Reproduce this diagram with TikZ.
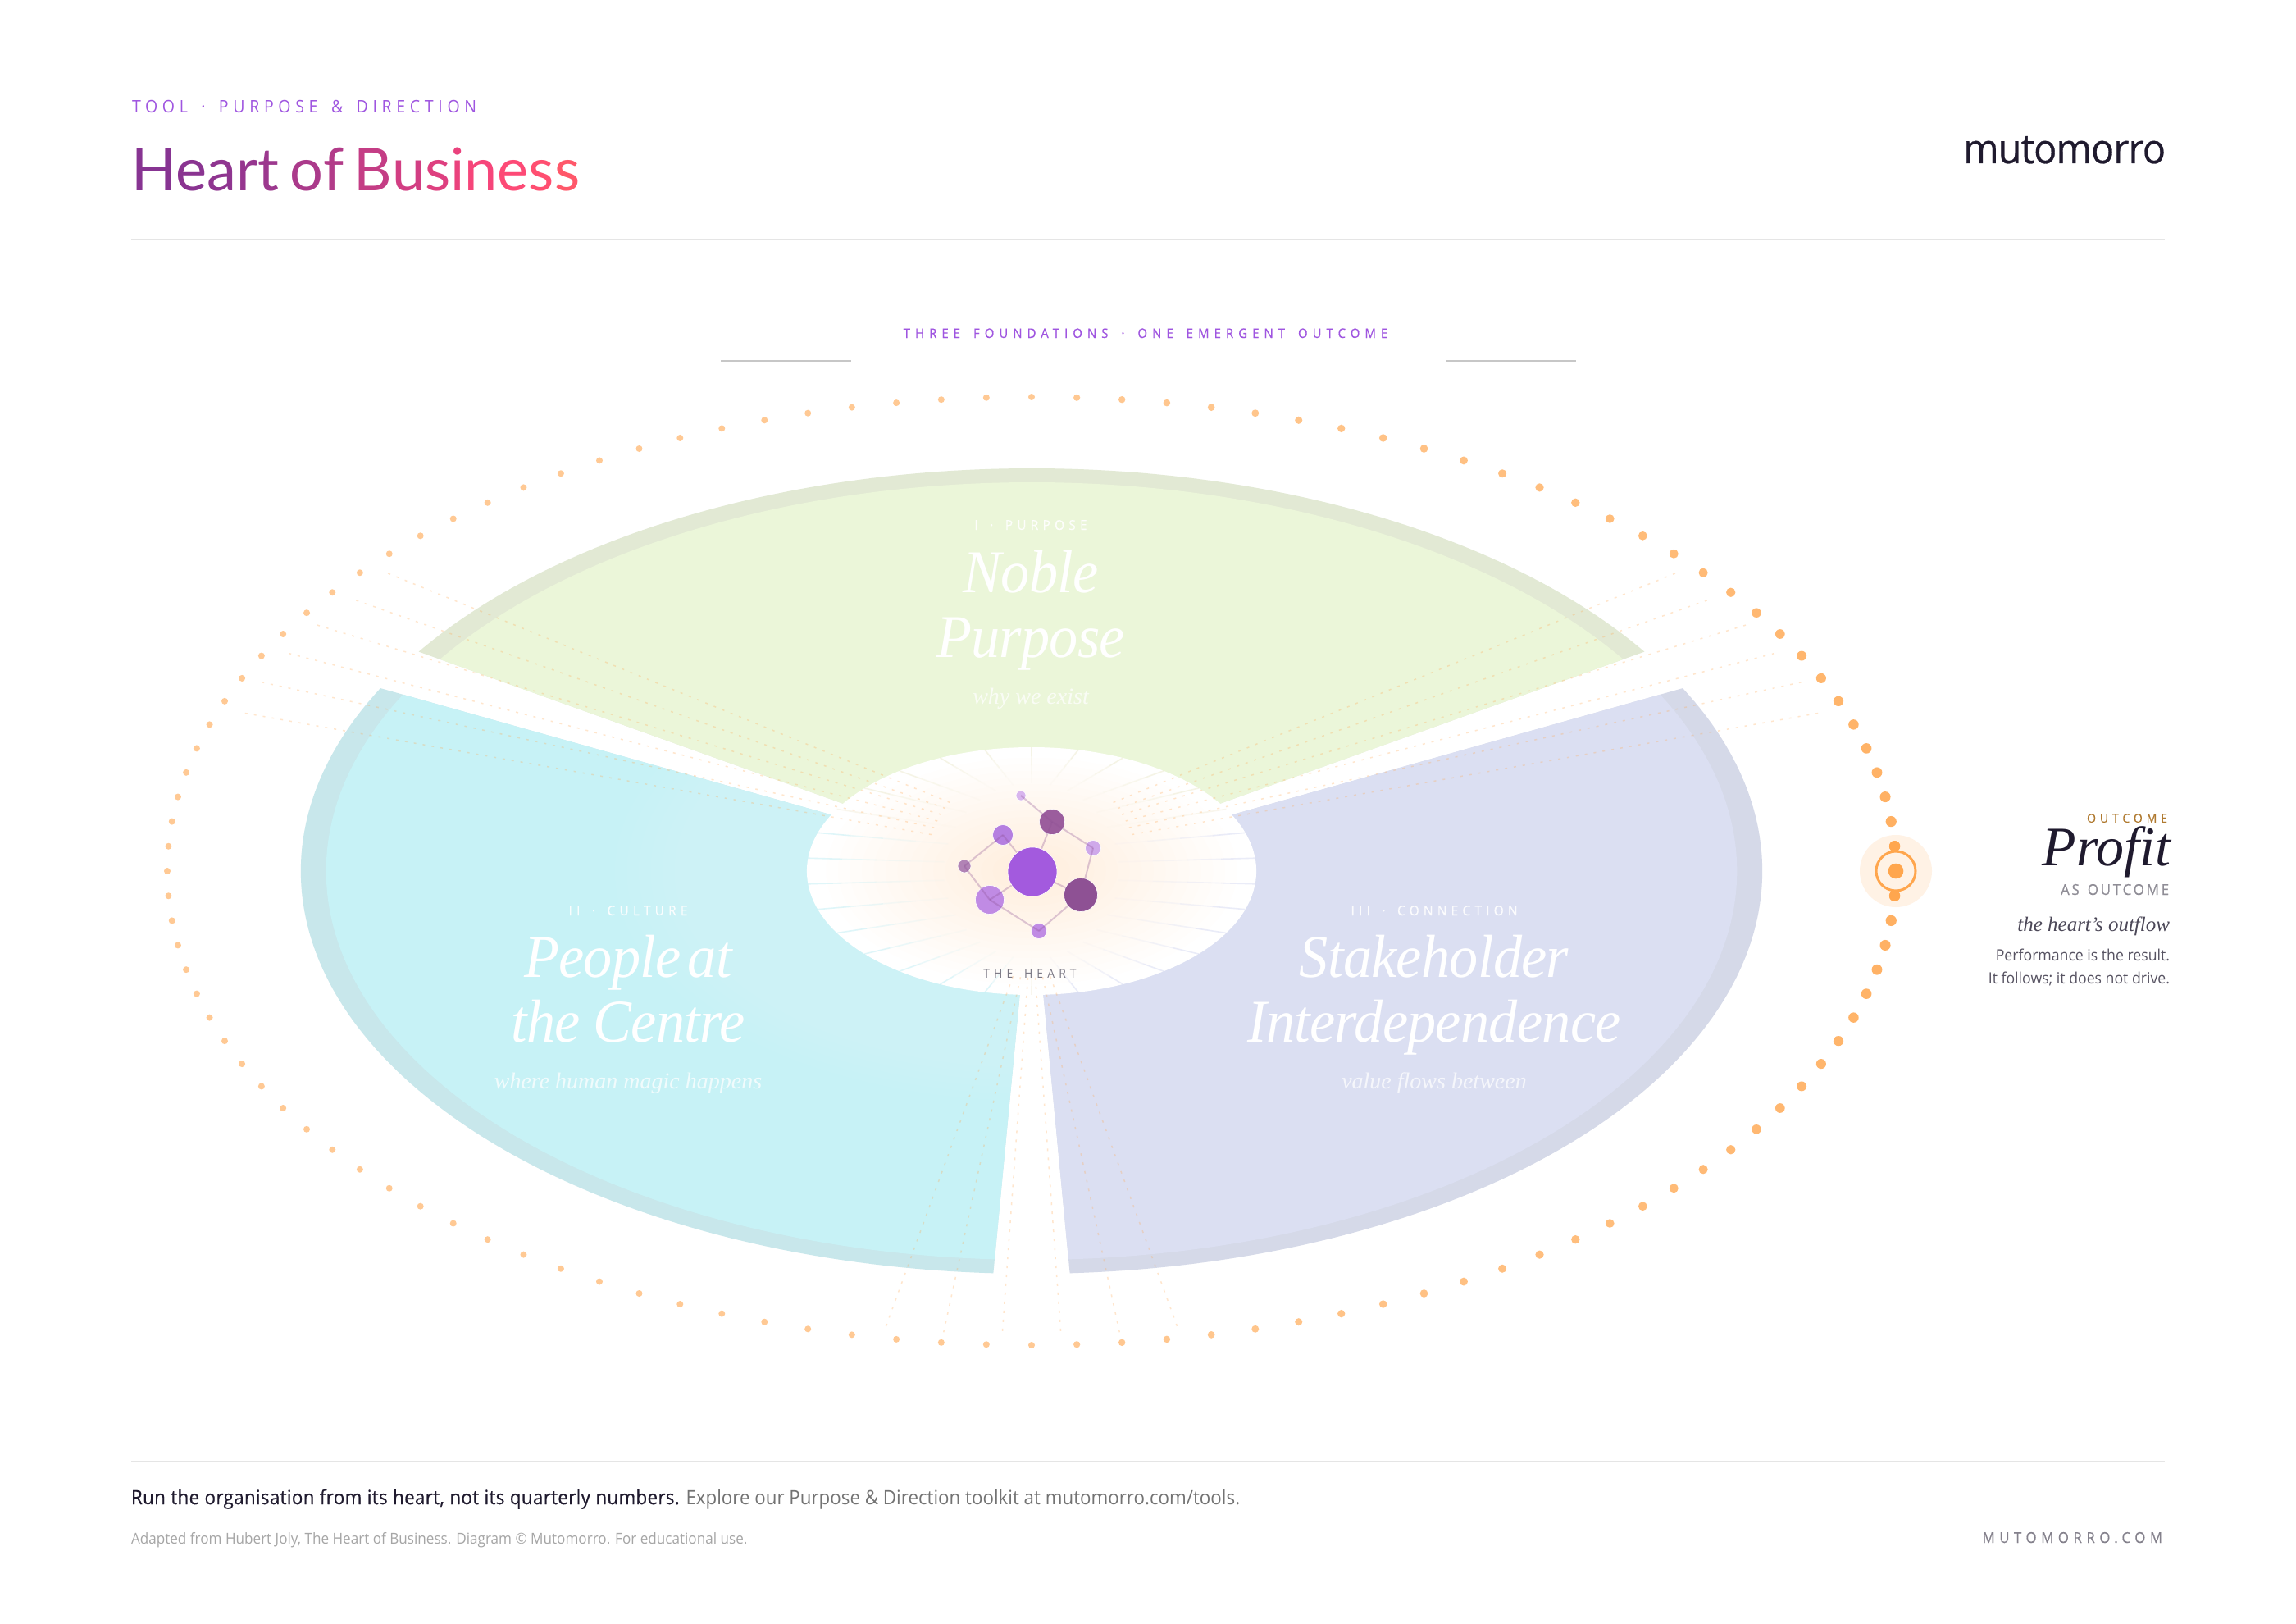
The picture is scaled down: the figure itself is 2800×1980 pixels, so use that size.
\documentclass[tikz,border=0pt]{standalone}
\usepackage{fontspec}
\usetikzlibrary{calc}
\setmainfont{Open Sans}
\newfontfamily\sansfont[FakeStretch=0.93]{Open Sans}
\newfontfamily\heavyfont[FakeStretch=0.93,FakeBold=0.6]{Open Sans}
\newfontfamily\titlefont{Lato}
\newfontfamily\seriffont{Liberation Serif}
\newfontfamily\bigserif[FakeStretch=0.95]{Liberation Serif}
\definecolor{violet}{HTML}{9F55E0}
\definecolor{inkdark}{HTML}{1F1A2E}
\definecolor{ringorange}{HTML}{FFA64D}
\definecolor{glowpeach}{HTML}{FFCD9B}
\definecolor{greenfill}{HTML}{EBF6D9}
\definecolor{greenband}{HTML}{E2E9D4}
\definecolor{cyanfill}{HTML}{C7F2F6}
\definecolor{cyanband}{HTML}{C8E7EB}
\definecolor{lilacfill}{HTML}{DBDFF2}
\definecolor{lilacband}{HTML}{D5D9E8}
\definecolor{atomline}{HTML}{8E5194}
\definecolor{HubPurple}{HTML}{A35ADE}
\definecolor{AtomA}{HTML}{D8B5EE}
\definecolor{AtomB}{HTML}{9B5D9D}
\definecolor{AtomC}{HTML}{CFA9EA}
\definecolor{AtomD}{HTML}{8E5194}
\definecolor{AtomE}{HTML}{C08BE4}
\definecolor{AtomF}{HTML}{B183B5}
\definecolor{AtomG}{HTML}{B57FE0}
\definecolor{OutBrown}{HTML}{B07A30}
\newcommand{\sz}[2]{\fontsize{#1}{#1}\selectfont\addfontfeature{LetterSpace=#2}\spaceskip=\dimexpr\fontdimen2\font+#2\fontdimen6\font/100\relax}
\newcommand{\tl}[2]{{\color[HTML]{#1}#2}}
\begin{document}
\begin{tikzpicture}[x=1pt,y=-1pt]
    \tikzstyle{every node}=[inner sep=0,outer sep=0];
    \tikzstyle{rule}=[draw=black!10,line width=2];
    \tikzstyle{tick}=[draw=black!22,line width=1.5];
    \tikzstyle{kicker}=[anchor=base,text=white,opacity=0.9,font=\heavyfont\sz{16.5}{32}];
    \tikzstyle{bigname}=[anchor=base,text=white,font=\bigserif\itshape\sz{74}{-1}];
    \tikzstyle{subname}=[anchor=base,text=white,opacity=0.75,font=\seriffont\itshape\sz{28}{0}];
    \tikzstyle{note}=[anchor=base east,text=inkdark!75,font=\sansfont\sz{19}{0}];
    \tikzstyle{halfray}=[line width=1.6];
    \tikzstyle{trickle}=[draw=ringorange,opacity=0.28,line width=1.5,dash pattern=on 3pt off 8pt];
    \tikzstyle{atom}=[circle,draw=white,line width=0.6];
    \tikzstyle{bond}=[draw=atomline,opacity=0.3,line width=2];

    \useasboundingbox (0,0) rectangle (2800,1980);
    \fill[white] (0,0) rectangle (2800,1980);

    \node at (161,138) (toolline) [anchor=base west,text=violet,font=\sansfont\sz{21}{27}] {TOOL · PURPOSE \& DIRECTION};
    \node at (160,233) (title) [anchor=base west,font=\titlefont\sz{72}{-4.2}] {\tl{873492}{H}\tl{8A3491}{e}\tl{8F3590}{a}\tl{96368F}{r}\tl{9C388E}{t} \tl{AB3A8B}{o}\tl{B23B89}{f} \tl{C43D85}{B}\tl{D23E83}{u}\tl{DE4080}{s}\tl{EA427D}{i}\tl{F6457A}{n}\tl{FD4A76}{e}\tl{FF4F71}{s}\tl{FF586A}{s}};
    \node at (2641,199) (logo) [anchor=base east,text=inkdark,font=\heavyfont\sz{50}{-1.5}] {mutomorro};
    \draw[rule] (160,292) -- (2640,292);

    \node at (1397,412) (strap) [anchor=base,text=violet,font=\heavyfont\sz{16}{38}] {THREE FOUNDATIONS · ONE EMERGENT OUTCOME};
    \draw[tick] (879,440) -- (1038,440);
    \draw[tick] (1763,440) -- (1922,440);

    \begin{scope}[shift={(1258,1062)},x=1.815pt,y=1pt]
        \foreach \a/\b/\fa/\fb in {33/147/greenfill/greenband,153/267/cyanfill/cyanband,273/387/lilacfill/lilacband} {
            \fill[\fb] (\a:100) -- (\a:491) arc[start angle=\a,end angle=\b,radius=491] -- (\b:100) -- cycle;
            \fill[\fa] (\a:100) -- (\a:474) arc[start angle=\a,end angle=\b,radius=474] -- (\b:100) -- cycle;
        }
        \foreach \r in {280,272,...,152}
            \fill[white,opacity=0.02] (0,0) circle (\r);
        \fill[white] (0,0) circle (151);
        \foreach \r in {138,130,...,18}
            \fill[glowpeach,opacity=0.02] (0,0) circle (\r);
        \foreach \m/\c in {90/E9E6C4,78/E9E6C4,66/E9E6C4,54/E9E6C4,42/E9E6C4,102/E9E6C4,114/E9E6C4,126/E9E6C4,138/E9E6C4,
                           30/F3EBD6,150/F3EBD6,270/F3EBD6,
                           162/B5EAF2,174/B5EAF2,186/B5EAF2,198/B5EAF2,210/B5EAF2,222/B5EAF2,234/B5EAF2,246/B5EAF2,258/B5EAF2,
                           18/CDD3F0,6/CDD3F0,-6/CDD3F0,-18/CDD3F0,-30/CDD3F0,-42/CDD3F0,-54/CDD3F0,-66/CDD3F0,-78/CDD3F0} {
            \definecolor{raytint}{HTML}{\c}
            \foreach \t/\o in {0/0.06,0.25/0.14,0.5/0.26,0.75/0.42}
                \draw[raytint,halfray,opacity=\o] ($(\m:107pt)!\t!(\m:151)$) -- ($(\m:107pt)!\t+0.25!(\m:151)$);
        }
        \foreach \g in {30,150,270}
            \foreach \d in {-10,-6,-2,2,6,10}
                \draw[trickle] (\g+\d:130pt) -- (\g+\d:566);
    \end{scope}

    \foreach \i in {0,...,119} {
        \pgfmathsetmacro{\t}{max(0,1-abs(\i*3-360*(\i>60))/90)}
        \fill[ringorange,opacity=0.6+0.3*\t] ({1258+1054*cos(\i*3)},{1062+578*sin(\i*3)}) circle ({4+2.8*\t});
    }
    \node at (2312,1062) (halo) [circle,minimum size=88,fill=ringorange,fill opacity=0.14] {};
    \foreach \i in {-1,1}
        \fill[ringorange,opacity=0.88] ({1258+1054*cos(\i*3)},{1062+578*sin(\i*3)}) circle (6.7);
    \node at (2312,1062) (ring) [circle,minimum size=48,draw=ringorange,line width=3] {};
    \node at (2312,1062) (core) [circle,minimum size=18.6,fill=ringorange] {};

    \coordinate (hubcore) at (1259,1063);
    \node at (1245,970)  (m1) [atom,minimum size=12,fill=AtomA] {};
    \node at (1283,1002) (m2) [atom,minimum size=31,fill=AtomB] {};
    \node at (1333,1034) (m3) [atom,minimum size=19,fill=AtomC] {};
    \node at (1318,1091) (m4) [atom,minimum size=41,fill=AtomD] {};
    \node at (1267,1135) (m5) [atom,minimum size=19,fill=AtomE] {};
    \node at (1207,1097) (m6) [atom,minimum size=35,fill=AtomE] {};
    \node at (1176,1056) (m7) [atom,minimum size=16,fill=AtomF] {};
    \node at (1223,1018) (m8) [atom,minimum size=25,fill=AtomG] {};

    \draw[bond] (m1.center) -- (m2.center);
    \draw[bond] (m2.center) -- (m3.center);
    \draw[bond] (m3.center) -- (m4.center);
    \draw[bond] (m4.center) -- (m5.center);
    \draw[bond] (m5.center) -- (m6.center);
    \draw[bond] (m6.center) -- (m7.center);
    \draw[bond] (m7.center) -- (m8.center);
    \draw[bond] (m8.center) -- (hubcore);
    \draw[bond] (m2.center) -- (hubcore);
    \draw[bond] (m4.center) -- (hubcore);
    \draw[bond] (m6.center) -- (hubcore);
    \node at (hubcore) (hub) [atom,minimum size=60,fill=HubPurple] {};

    \node at (1256,1192) (heartname) [anchor=base,text=inkdark!60,font=\sansfont\sz{15}{34}] {THE HEART};

    \node at (1257,646)  (purposetag) [kicker] {I · PURPOSE};
    \node at (1257,722)  (purposea) [bigname] {Noble};
    \node at (1257,801)  (purposeb) [bigname] {Purpose};
    \node at (1257,858)  (purposesub) [subname] {why we exist};

    \node at (766,1116)  (culturetag) [kicker] {II · CULTURE};
    \node at (766,1191)  (culturea) [bigname] {People\kern-8pt{} at};
    \node at (766,1270)  (cultureb) [bigname] {the Centre};
    \node at (766,1327)  (culturesub) [subname] {where human magic happens};

    \node at (1749,1116) (linktag) [kicker] {III · CONNECTION};
    \node at (1749,1191) (linka) [bigname] {Stakeholder};
    \node at (1749,1270) (linkb) [bigname] {Interdependence};
    \node at (1749,1327) (linksub) [subname] {value flows between};

    \node at (2643,1003) (outtag) [anchor=base east,text=OutBrown,font=\heavyfont\sz{15}{33}] {OUTCOME};
    \node at (2647,1055) (profit) [anchor=base east,text=inkdark,font=\seriffont\itshape\sz{68}{0}] {Profit};
    \node at (2645,1091) (asout) [anchor=base east,text=inkdark!50,font=\heavyfont\sz{18}{16}] {AS OUTCOME};
    \node at (2646,1135) (outflow) [anchor=base east,text=inkdark!80,font=\seriffont\itshape\sz{25}{0}] {the heart’s outflow};
    \node at (2646,1171) (noteone) [note] {Performance is the result.};
    \node at (2646,1199) (notetwo) [note] {It follows; it does not drive.};

    \draw[rule] (160,1782) -- (2640,1782);
    \node at (160,1834) (closing) [anchor=base west,font=\sansfont\sz{24}{0}] {\textcolor{inkdark}{\heavyfont\sz{24}{1.4}Run the organisation from its heart, not its quarterly numbers.} \textcolor{black!55}{Explore our Purpose \& Direction toolkit at mutomorro.com/tools.}};
    \node at (160,1882) (credit) [anchor=base west,text=black!35,font=\sansfont\sz{18.4}{0}] {Adapted from Hubert Joly, The Heart of Business. Diagram © Mutomorro. For educational use.};
    \node at (2637,1881) (site) [anchor=base east,text=inkdark!55,font=\heavyfont\sz{18}{31}] {MUTOMORRO.COM};
\end{tikzpicture}
\end{document}
